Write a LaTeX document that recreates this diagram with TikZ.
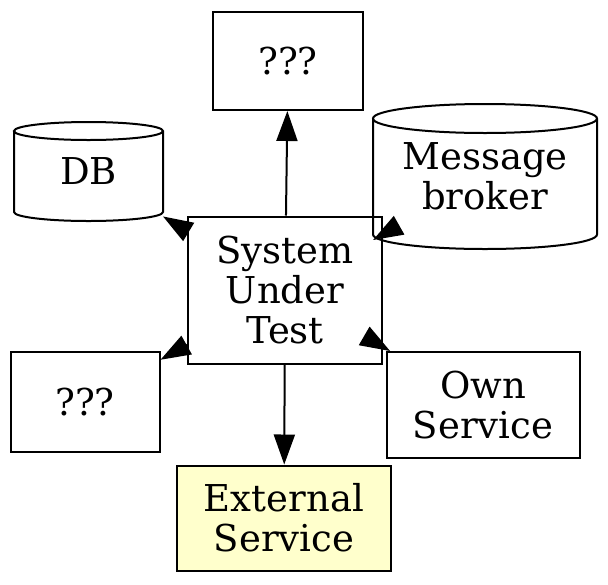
\documentclass[tikz,border=0pt]{standalone}
\usepackage{fontspec}
\setmainfont{DejaVu Serif}
\usetikzlibrary{arrows.meta}
\definecolor{paleyellow}{HTML}{FFFFCC}

\begin{document}
\begin{tikzpicture}[
					x=0.5pt, y=-0.5pt,
					font=\fontsize{18.5}{20}\selectfont,
					box/.style={draw, line width=1pt, align=center, inner sep=0pt},
					store/.style={align=center, inner sep=0pt, outer sep=0pt},
					outline/.style={line width=1pt},
					link/.style={line width=1pt, -{Triangle[length=15pt, width=10.5pt]}}
					]
					\useasboundingbox (0,0) rectangle (608,584);
					% Nodes
					\node [box, minimum width=75pt, minimum height=49pt] (TopQ) at (288,61) {???};
					\node [store, minimum width=74.5pt, minimum height=49.5pt] (DB) at (88.5,171.5) {DB};
					\node [store, minimum width=112pt, minimum height=72.5pt] (Broker) at (485,176.5) {Message\\broker};
					\node [box, minimum width=97pt, minimum height=73.5pt] (SUT) at (285,290) {System\\Under\\Test};
					\node [box, minimum width=74.5pt, minimum height=50pt] (LeftQ) at (85,402) {???};
					\node [box, minimum width=96.5pt, minimum height=53pt] (Own) at (483,405) {Own\\Service};
					\node [box, fill=paleyellow, minimum width=107pt, minimum height=52.5pt] (External) at (284,518) {External\\Service};
					
					% Cylinder outlines
					\draw [outline] (DB.north west) ++(0pt,-4.5pt) -- ++(0pt,-40.5pt)
						arc[start angle=180, end angle=360, x radius=37.25pt, y radius=4.5pt] -- ++(0pt,40.5pt)
						arc[start angle=0, end angle=360, x radius=37.25pt, y radius=4.5pt];
					\draw [outline] (Broker.north west) ++(0pt,-7.25pt) -- ++(0pt,-58pt)
						arc[start angle=180, end angle=360, x radius=56pt, y radius=7.25pt] -- ++(0pt,58pt)
						arc[start angle=0, end angle=360, x radius=56pt, y radius=7.25pt];
					
					% Edges
					\draw [link] (SUT) -- (TopQ);
					\draw [link] (SUT) -- (External);
					\draw [link] (SUT) -- (DB);
					\draw [link] (SUT) -- (Broker);
					\draw [link] (SUT) -- (LeftQ);
					\draw [link] (SUT) -- (Own);
				\end{tikzpicture}
\end{document}
